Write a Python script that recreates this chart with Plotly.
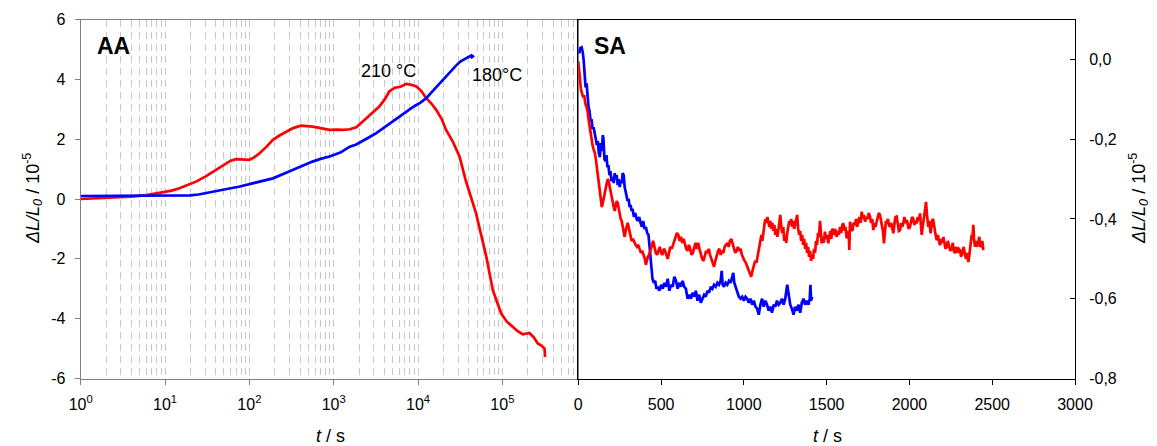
import plotly.graph_objects as go

W, H = 1157, 446

# ---------------- data: AA (log time axis) ----------------
aa_210_t = [1, 2, 3, 4, 6, 8.6, 12, 14.8, 19, 23.3, 30, 36.7, 45, 52, 60, 69, 82, 100, 115, 132,
            160, 190, 230, 272, 330, 408, 480, 563, 700, 890, 1100, 1300, 1550, 1850, 2210, 2700,
            3470, 4000, 4580, 5300, 6200, 7230, 8300, 9550, 11000, 12500, 14300, 16400, 19000,
            21500, 26000, 31000, 36600, 42000, 48700, 56000, 64500, 77000, 87000, 96800, 113000,
            133000, 152000, 174000, 190000, 209000, 235000, 263000, 290000, 316000, 318000, 320000]
aa_210_v = [0.0, 0.03, 0.06, 0.08, 0.13, 0.2, 0.28, 0.36, 0.47, 0.58, 0.75, 0.91, 1.07, 1.19, 1.28,
            1.33, 1.32, 1.31, 1.4, 1.53, 1.75, 1.98, 2.13, 2.25, 2.37, 2.45, 2.44, 2.42, 2.37, 2.31,
            2.32, 2.31, 2.33, 2.4, 2.59, 2.8, 3.09, 3.32, 3.6, 3.72, 3.75, 3.85, 3.82, 3.76, 3.6,
            3.37, 3.2, 2.98, 2.68, 2.31, 1.9, 1.42, 0.64, 0.1, -0.48, -1.2, -1.93, -3.05, -3.5,
            -3.83, -4.1, -4.28, -4.42, -4.52, -4.5, -4.48, -4.62, -4.83, -4.9, -5.0, -5.1, -5.28]

aa_180_t = [1, 2, 5, 10, 15, 20, 25, 36.7, 48, 60, 75, 91, 110, 130, 160, 190, 260, 360, 450, 560,
            700, 890, 1200, 1550, 1850, 2200, 2700, 3200, 3800, 4500, 5500, 6600, 7800, 9000, 10700,
            12500, 14000, 16000, 18500, 21500, 25000, 28000, 32000, 36900, 40000, 43000, 44500,
            42000, 45000]
aa_180_v = [0.1, 0.1, 0.1, 0.1, 0.1, 0.12, 0.15, 0.25, 0.3, 0.36, 0.41, 0.47, 0.52, 0.57, 0.63, 0.69,
            0.85, 1.03, 1.14, 1.25, 1.34, 1.42, 1.55, 1.75, 1.82, 1.95, 2.08, 2.2, 2.35, 2.5, 2.65,
            2.81, 2.95, 3.1, 3.22, 3.37, 3.52, 3.7, 3.9, 4.1, 4.3, 4.45, 4.6, 4.71, 4.75, 4.8, 4.77,
            4.72, 4.76]

# ---------------- data: SA (linear time axis) ----------------
sa_180_t = [5, 12, 20, 26, 32, 38, 44, 50, 56, 62, 68, 74, 80, 86, 92, 100, 106, 112, 118, 124, 130,
            136, 142, 148, 152, 158, 164, 170, 176, 182, 188, 194, 200, 208, 214, 220, 226, 232, 238,
            244, 250, 256, 262, 268, 274, 280, 286, 292, 298, 304, 310, 316, 322, 328, 336, 344, 352,
            360, 368, 376, 384, 392, 400, 408, 416, 424, 430, 436, 442, 448, 456, 464, 472, 480, 490,
            500, 510, 520, 530, 540, 550, 560, 570, 580, 590, 600, 610, 620, 630, 640, 650, 660, 670,
            680, 690, 700, 710, 720, 730, 740, 750, 760, 770, 780, 790, 800, 810, 820, 830, 840, 850,
            860, 866, 872, 880, 890, 900, 910, 920, 930, 936, 942, 950, 960, 970, 980, 990, 1000,
            1010, 1020, 1030, 1040, 1050, 1060, 1070, 1080, 1090, 1100, 1110, 1120, 1130, 1140, 1150,
            1160, 1170, 1180, 1190, 1200, 1210, 1220, 1230, 1240, 1250, 1262, 1270, 1280, 1290, 1300,
            1310, 1320, 1330, 1340, 1350, 1360, 1370, 1380, 1390, 1398, 1402, 1406, 1412]
sa_180_v = [0.015, 0.028, 0.03, 0.02, 0.0, -0.04, -0.07, -0.06, -0.1, -0.12, -0.13, -0.155, -0.15,
            -0.175, -0.17, -0.195, -0.2, -0.215, -0.205, -0.235, -0.245, -0.21, -0.23, -0.19, -0.2,
            -0.25, -0.255, -0.24, -0.27, -0.265, -0.29, -0.28, -0.305, -0.295, -0.31, -0.285, -0.3,
            -0.29, -0.315, -0.3, -0.32, -0.305, -0.31, -0.285, -0.29, -0.32, -0.335, -0.34, -0.355,
            -0.35, -0.37, -0.365, -0.38, -0.375, -0.395, -0.385, -0.4, -0.405, -0.395, -0.41, -0.42,
            -0.405, -0.425, -0.42, -0.435, -0.44, -0.47, -0.5, -0.535, -0.55, -0.56, -0.555, -0.575,
            -0.57, -0.58, -0.565, -0.575, -0.56, -0.57, -0.55, -0.58, -0.565, -0.57, -0.545, -0.555,
            -0.575, -0.56, -0.57, -0.555, -0.57, -0.575, -0.6, -0.59, -0.6, -0.585, -0.595, -0.58,
            -0.605, -0.59, -0.61, -0.6, -0.59, -0.595, -0.58, -0.585, -0.57, -0.575, -0.565, -0.57,
            -0.56, -0.565, -0.555, -0.53, -0.565, -0.57, -0.56, -0.565, -0.555, -0.56, -0.545,
            -0.535, -0.56, -0.57, -0.585, -0.595, -0.6, -0.595, -0.605, -0.595, -0.6, -0.61, -0.6,
            -0.615, -0.605, -0.62, -0.625, -0.64, -0.615, -0.6, -0.62, -0.605, -0.615, -0.63, -0.62,
            -0.635, -0.615, -0.62, -0.605, -0.615, -0.61, -0.6, -0.615, -0.6, -0.565, -0.59, -0.615,
            -0.625, -0.64, -0.62, -0.63, -0.615, -0.635, -0.61, -0.6, -0.615, -0.605, -0.615, -0.6,
            -0.565, -0.605, -0.595]

# 210 °C, first part (0 .. 1092 s)
sa_210_head_t = [0, 5, 10, 16, 22, 30, 36, 42, 50, 56, 62, 68, 74, 80, 86, 92, 100, 106, 112, 118, 124,
                 130, 136, 142, 148, 154, 160, 166, 172, 178, 184, 190, 196, 202, 208, 214, 220, 226, 232,
                 238, 244, 250, 256, 262, 268, 274, 280, 286, 292, 298, 304, 310, 316, 322, 330, 338, 346,
                 354, 362, 370, 378, 386, 394, 402, 408, 414, 420, 428, 436, 444, 452, 460, 468, 476, 484,
                 492, 500, 508, 516, 524, 532, 540, 548, 556, 564, 572, 580, 588, 596, 604, 612, 620, 628,
                 636, 644, 652, 660, 668, 676, 684, 692, 700, 708, 716, 724, 732, 740, 748, 756, 764, 772,
                 780, 788, 796, 804, 812, 820, 828, 836, 844, 852, 860, 868, 876, 884, 892, 900, 908, 916,
                 924, 932, 940, 948, 956, 964, 972, 980, 988, 996, 1004, 1012, 1020, 1028, 1036, 1044,
                 1052, 1060, 1068, 1076, 1084, 1092]
sa_210_head_v = [-0.005, -0.03, -0.06, -0.075, -0.085, -0.095, -0.09, -0.11, -0.12, -0.13, -0.15, -0.17,
                 -0.185, -0.21, -0.215, -0.225, -0.235, -0.25, -0.27, -0.29, -0.31, -0.33, -0.355, -0.37,
                 -0.36, -0.345, -0.335, -0.32, -0.31, -0.3, -0.305, -0.32, -0.335, -0.34, -0.355, -0.37,
                 -0.38, -0.365, -0.355, -0.36, -0.375, -0.385, -0.4, -0.405, -0.42, -0.43, -0.445, -0.43,
                 -0.415, -0.41, -0.42, -0.435, -0.445, -0.455, -0.45, -0.46, -0.465, -0.47, -0.465,
                 -0.475, -0.485, -0.48, -0.49, -0.5, -0.515, -0.505, -0.495, -0.49, -0.48, -0.465, -0.455,
                 -0.47, -0.485, -0.49, -0.48, -0.47, -0.485, -0.49, -0.475, -0.48, -0.49, -0.5, -0.485,
                 -0.47, -0.475, -0.465, -0.45, -0.44, -0.435, -0.44, -0.455, -0.445, -0.46, -0.45, -0.465,
                 -0.475, -0.48, -0.465, -0.475, -0.49, -0.485, -0.47, -0.46, -0.475, -0.46, -0.475, -0.49,
                 -0.5, -0.505, -0.49, -0.48, -0.485, -0.475, -0.49, -0.5, -0.515, -0.52, -0.505, -0.49,
                 -0.48, -0.475, -0.49, -0.48, -0.485, -0.47, -0.465, -0.46, -0.47, -0.455, -0.45, -0.46,
                 -0.475, -0.485, -0.48, -0.47, -0.48, -0.475, -0.49, -0.5, -0.505, -0.51, -0.52, -0.525,
                 -0.535, -0.545, -0.53, -0.52, -0.505, -0.51, -0.49, -0.47]

# 210 °C, second part (1100 .. 2446 s)
sa_210_tail_t = [1100, 1106, 1112, 1118, 1124, 1130, 1136, 1142, 1148, 1154,
                 1160, 1166, 1172, 1178, 1184, 1190, 1196, 1202, 1208, 1214,
                 1220, 1226, 1232, 1238, 1244, 1250, 1256, 1262, 1268, 1274,
                 1280, 1286, 1292, 1298, 1304, 1310, 1316, 1322, 1328, 1334,
                 1340, 1346, 1352, 1358, 1364, 1370, 1376, 1382, 1388, 1394,
                 1400, 1406, 1412, 1418, 1424, 1430, 1436, 1442, 1448, 1454,
                 1460, 1466, 1470, 1476, 1482, 1490, 1496, 1502, 1510, 1516,
                 1522, 1528, 1534, 1540, 1546, 1552, 1561, 1567, 1574, 1581,
                 1588, 1595, 1601, 1608, 1614, 1621, 1628, 1634, 1637, 1641,
                 1648, 1656, 1662, 1671, 1678, 1684, 1691, 1698, 1705, 1712,
                 1718, 1725, 1732, 1740, 1747, 1754, 1762, 1768, 1775, 1782,
                 1788, 1795, 1802, 1808, 1815, 1822, 1828, 1833, 1840, 1846,
                 1852, 1858, 1863, 1870, 1876, 1883, 1890, 1896, 1903, 1910,
                 1916, 1923, 1930, 1936, 1943, 1950, 1956, 1963, 1970, 1977,
                 1984, 1990, 1996, 2003, 2010, 2016, 2023, 2030, 2037, 2044,
                 2050, 2057, 2064, 2070, 2074, 2080, 2084, 2090, 2095, 2100,
                 2106, 2110, 2114, 2120, 2128, 2134, 2140, 2144, 2150, 2158,
                 2165, 2172, 2178, 2185, 2192, 2198, 2205, 2212, 2218, 2225,
                 2232, 2240, 2247, 2255, 2262, 2268, 2275, 2282, 2290, 2298,
                 2305, 2312, 2320, 2328, 2336, 2342, 2348, 2356, 2362, 2366,
                 2370, 2376, 2380, 2386, 2390, 2396, 2402, 2408, 2416, 2422,
                 2428, 2436, 2440, 2446]
sa_210_tail_v = [-0.46, -0.44, -0.455, -0.425, -0.415, -0.4, -0.41, -0.395, -0.405, -0.42,
                 -0.405, -0.425, -0.41, -0.43, -0.415, -0.44, -0.425, -0.445, -0.43, -0.415,
                 -0.39, -0.42, -0.435, -0.42, -0.455, -0.44, -0.46, -0.435, -0.42, -0.405,
                 -0.415, -0.4, -0.42, -0.405, -0.425, -0.41, -0.395, -0.39, -0.425, -0.44,
                 -0.43, -0.455, -0.44, -0.465, -0.45, -0.475, -0.46, -0.485, -0.47, -0.495,
                 -0.48, -0.505, -0.49, -0.5, -0.475, -0.485, -0.455, -0.465, -0.435, -0.445,
                 -0.405, -0.43, -0.461, -0.445, -0.46, -0.432, -0.45, -0.44, -0.461, -0.445,
                 -0.43, -0.45, -0.425, -0.428, -0.44, -0.425, -0.445, -0.43, -0.44, -0.42,
                 -0.435, -0.415, -0.411, -0.43, -0.42, -0.449, -0.43, -0.44, -0.478, -0.407,
                 -0.425, -0.43, -0.41, -0.415, -0.4, -0.42, -0.403, -0.395, -0.41, -0.382,
                 -0.4, -0.39, -0.407, -0.395, -0.4, -0.385, -0.394, -0.41, -0.4, -0.428,
                 -0.41, -0.42, -0.407, -0.395, -0.385, -0.39, -0.405, -0.411, -0.43, -0.461,
                 -0.42, -0.405, -0.411, -0.4, -0.415, -0.42, -0.41, -0.425, -0.436, -0.41,
                 -0.395, -0.394, -0.415, -0.43, -0.428, -0.41, -0.42, -0.411, -0.395, -0.41,
                 -0.403, -0.415, -0.425, -0.42, -0.405, -0.395, -0.399, -0.415, -0.405, -0.411,
                 -0.395, -0.405, -0.386, -0.41, -0.44, -0.42, -0.411, -0.39, -0.375, -0.357,
                 -0.39, -0.41, -0.42, -0.405, -0.436, -0.415, -0.4, -0.403, -0.425, -0.44,
                 -0.453, -0.44, -0.455, -0.466, -0.45, -0.46, -0.445, -0.46, -0.475, -0.47,
                 -0.455, -0.47, -0.48, -0.474, -0.46, -0.48, -0.486, -0.47, -0.485, -0.475,
                 -0.478, -0.495, -0.485, -0.47, -0.491, -0.5, -0.485, -0.508, -0.49, -0.47,
                 -0.47, -0.44, -0.45, -0.415, -0.45, -0.47, -0.455, -0.47, -0.457, -0.445,
                 -0.47, -0.466, -0.455, -0.478]

sa_210_t = sa_210_head_t + sa_210_tail_t
sa_210_v = sa_210_head_v + sa_210_tail_v

# ---------------- tick labels ----------------
aa_xtick_vals = [1, 10, 100, 1000, 10000, 100000]
aa_xtick_text = ["10<sup>0</sup>", "10<sup>1</sup>", "10<sup>2</sup>", "10<sup>3</sup>",
                 "10<sup>4</sup>", "10<sup>5</sup>"]
aa_grid_vals = [m * 10 ** k for k in range(0, 6) for m in range(1, 10)]
aa_ytick_vals = [-6, -4, -2, 0, 2, 4, 6]
aa_ytick_text = ["-6", "-4", "-2", "0", "2", "4", "6"]
sa_xtick_vals = [0, 500, 1000, 1500, 2000, 2500, 3000]
sa_ytick_vals = [-0.8, -0.6, -0.4, -0.2, 0.0]
sa_ytick_text = ["-0,8", "-0,6", "-0,4", "-0,2", "0,0"]

RED = "#ff0000"
BLUE = "#0000ff"
GRAY = "#808080"
GRID = "#c8c8c8"
FONT = "Arial, 'Liberation Sans', sans-serif"

# plot-area geometry in pixels
xl0, xl1, xr1 = 80.7, 578.3, 1075.0
yt, yb = 19.5, 378.5

fig = go.Figure()
fig.add_trace(go.Scatter(x=aa_210_t, y=aa_210_v, mode="lines", line=dict(color=RED, width=2.7),
                         xaxis="x", yaxis="y", showlegend=False))
fig.add_trace(go.Scatter(x=aa_180_t, y=aa_180_v, mode="lines", line=dict(color=BLUE, width=2.7),
                         xaxis="x", yaxis="y", showlegend=False))
fig.add_trace(go.Scatter(x=sa_180_t, y=sa_180_v, mode="lines", line=dict(color=BLUE, width=2.7),
                         xaxis="x2", yaxis="y2", showlegend=False))
fig.add_trace(go.Scatter(x=sa_210_t, y=sa_210_v, mode="lines", line=dict(color=RED, width=2.7),
                         xaxis="x2", yaxis="y2", showlegend=False))

ydom = [(H - yb) / H, (H - yt) / H]
fig.update_layout(
    width=W, height=H, margin=dict(l=0, r=0, t=0, b=0, autoexpand=False),
    paper_bgcolor="white", plot_bgcolor="white",
    font=dict(family=FONT, size=16, color="black"),
    xaxis=dict(type="log", range=[0, 5.9], domain=[xl0 / W, xl1 / W], anchor="y",
               automargin=False,
               showline=True, linecolor=GRAY, linewidth=1, mirror=True,
               ticks="outside", ticklen=5, tickcolor=GRAY,
               tickmode="array", tickvals=aa_xtick_vals, ticktext=aa_xtick_text,
               showgrid=True, gridcolor=GRID, griddash="7px,5px", gridwidth=1,
               minor=dict(tickmode="array", tickvals=aa_grid_vals, showgrid=True,
                          gridcolor=GRID, griddash="7px,5px", gridwidth=1, ticks=""),
               zeroline=False, ticklabelstandoff=6),
    yaxis=dict(range=[-6, 6], domain=ydom, anchor="x", automargin=False,
               showline=True, linecolor=GRAY, linewidth=1, mirror=True,
               ticks="outside", ticklen=5, tickcolor=GRAY,
               tickmode="array", tickvals=aa_ytick_vals, ticktext=aa_ytick_text,
               showgrid=False, zeroline=False, ticklabelstandoff=6),
    xaxis2=dict(range=[0, 3000], domain=[xl1 / W, xr1 / W], anchor="y2", automargin=False,
                showline=True, linecolor="black", linewidth=1, mirror=True,
                ticks="outside", ticklen=5, tickcolor="black",
                tickmode="array", tickvals=sa_xtick_vals,
                showgrid=False, zeroline=False, ticklabelstandoff=6),
    yaxis2=dict(range=[-0.8, 0.1], domain=ydom, anchor="x2", side="right", automargin=False,
                showline=True, linecolor="black", linewidth=1, mirror=True,
                ticks="inside", ticklen=5, tickcolor="black",
                tickmode="array", tickvals=sa_ytick_vals, ticktext=sa_ytick_text,
                showgrid=False, zeroline=False, ticklabelstandoff=10),
)

ann = []
def px(x, y, text, size=16, angle=0, bold=False):
    t = f"<b>{text}</b>" if bold else text
    ann.append(dict(x=x / W, y=(H - y) / H, xref="paper", yref="paper", text=t,
                    showarrow=False, xanchor="center", yanchor="middle", textangle=angle,
                    font=dict(family=FONT, size=size, color="black")))

px(113, 46, "AA", size=23, bold=True)
px(610, 46, "SA", size=23, bold=True)
px(388, 71, "210 °C", size=18)
px(497, 75, "180°C", size=18)
px(33, 199, "<i>ΔL/L<sub>0</sub></i> / 10<sup>-5</sup>", size=18, angle=-90)
px(1139, 199, "<i>ΔL/L<sub>0</sub></i> / 10<sup>-5</sup>", size=18, angle=-90)
px(330, 436, "<i>t</i> / s", size=18)
px(827, 436, "<i>t</i> / s", size=18)
fig.update_layout(annotations=ann)

fig.write_html("out.html")
